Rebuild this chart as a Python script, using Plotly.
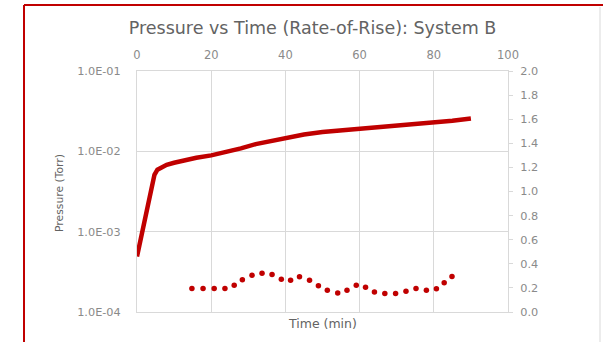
import plotly.graph_objects as go

# ---- data ----
time_min = [0, 1, 2, 3, 4, 4.7, 5.5, 6.5, 8, 10, 13, 16, 20, 24, 28, 32, 36, 40,
            45, 50, 55, 60, 65, 70, 75, 80, 85, 90]
pressure_torr = [4.9e-4, 8.1e-4, 1.35e-3, 2.27e-3, 3.8e-3, 5.1e-3, 5.9e-3, 6.3e-3,
                 6.8e-3, 7.2e-3, 7.8e-3, 8.3e-3, 8.9e-3, 9.7e-3, 1.09e-2, 1.23e-2,
                 1.35e-2, 1.47e-2, 1.62e-2, 1.74e-2, 1.82e-2, 1.93e-2, 2.03e-2,
                 2.10e-2, 2.19e-2, 2.27e-2, 2.40e-2, 2.57e-2]

rate_time = [14.8, 17.8, 20.8, 23.7, 26.2, 28.4, 31.0, 33.7, 36.4, 38.9, 41.4, 43.8,
             46.5, 48.9, 51.3, 54.1, 56.6, 59.1, 61.6, 64.0, 66.8, 69.7, 72.5, 75.2,
             78.0, 80.7, 82.8, 84.9]
rate_values = [0.194, 0.194, 0.194, 0.194, 0.222, 0.267, 0.306, 0.322, 0.311, 0.272,
               0.264, 0.292, 0.264, 0.217, 0.181, 0.158, 0.181, 0.222, 0.206, 0.167,
               0.153, 0.153, 0.172, 0.194, 0.181, 0.192, 0.242, 0.294]

x_ticks = [0, 20, 40, 60, 80, 100]
y_ticks = [1e-4, 1e-3, 1e-2, 1e-1]
y_tick_labels = ["1.0E-04", "1.0E-03", "1.0E-02", "1.0E-01"]
y2_ticks = [0.0, 0.2, 0.4, 0.6, 0.8, 1.0, 1.2, 1.4, 1.6, 1.8, 2.0]

title_text = "Pressure vs Time (Rate-of-Rise): System B"
x_title = "Time (min)"
y_title = "Pressure (Torr)"

# ---- styling ----
W, H = 603, 342
L, R, T, B = 137, 95, 71, 30
PW, PH = W - L - R, H - T - B
RED = "#C00000"
GRID = "#d9d9d9"
TICKC = "#8a8a8a"
FONT = "DejaVu Sans"


def px_x(px):
    return (px - L) / PW


def px_y(py):
    return (H - B - py) / PH


fig = go.Figure()
fig.add_trace(go.Scatter(x=time_min, y=pressure_torr, mode="lines",
                         line=dict(color=RED, width=4.5), showlegend=False,
                         yaxis="y"))
fig.add_trace(go.Scatter(x=rate_time, y=rate_values, mode="markers",
                         marker=dict(color=RED, size=5.5), showlegend=False,
                         yaxis="y2"))

fig.update_layout(
    width=W, height=H,
    margin=dict(l=L, r=R, t=T, b=B),
    paper_bgcolor="white", plot_bgcolor="white",
    font=dict(family=FONT, color=TICKC, size=11),
    title=dict(text=title_text, xref="container", yref="container",
               x=312.5 / W, y=1 - 28 / H, xanchor="center", yanchor="middle",
               font=dict(family=FONT, size=17.5, color="#636363")),
    xaxis=dict(range=[0, 100], side="top", tickvals=x_ticks, ticks="",
               showgrid=True, gridcolor=GRID, gridwidth=1,
               showline=True, linecolor=GRID, mirror=True, zeroline=False,
               ticklabelstandoff=6, tickfont=dict(size=11.5, color=TICKC)),
    yaxis=dict(type="log", range=[-4, -1], tickvals=y_ticks, ticktext=y_tick_labels,
               ticks="", showgrid=True, gridcolor=GRID, gridwidth=1,
               showline=True, linecolor=GRID, mirror=False, zeroline=False,
               ticklabelstandoff=13, tickfont=dict(size=11.3, color=TICKC)),
    yaxis2=dict(range=[0, 2], overlaying="y", side="right", tickvals=y2_ticks,
                tickformat=".1f", ticks="outside", ticklen=4, tickcolor=GRID,
                showgrid=False, showline=True, linecolor=GRID, zeroline=False,
                ticklabelstandoff=5, tickfont=dict(size=11.3, color=TICKC)),
    annotations=[
        dict(text=x_title, xref="paper", yref="paper", x=0.5, y=px_y(323),
             xanchor="center", yanchor="middle", showarrow=False,
             font=dict(family=FONT, size=12.5, color="#636363")),
        dict(text=y_title, xref="paper", yref="paper", x=px_x(59), y=px_y(193),
             xanchor="center", yanchor="middle", showarrow=False, textangle=-90,
             font=dict(family=FONT, size=10.8, color="#636363")),
    ],
    shapes=[
        dict(type="line", xref="paper", yref="paper", x0=px_x(24), x1=px_x(603),
             y0=px_y(5), y1=px_y(5), line=dict(color=RED, width=2)),
        dict(type="line", xref="paper", yref="paper", x0=px_x(24), x1=px_x(24),
             y0=px_y(5), y1=px_y(345), line=dict(color=RED, width=2)),
        dict(type="line", xref="paper", yref="paper", x0=px_x(600), x1=px_x(600),
             y0=px_y(7), y1=px_y(345), line=dict(color=GRID, width=1)),
    ],
)

fig.write_html("out.html", config={"displayModeBar": False},
               post_script="document.body.style.margin='0';document.body.style.overflow='hidden';")
